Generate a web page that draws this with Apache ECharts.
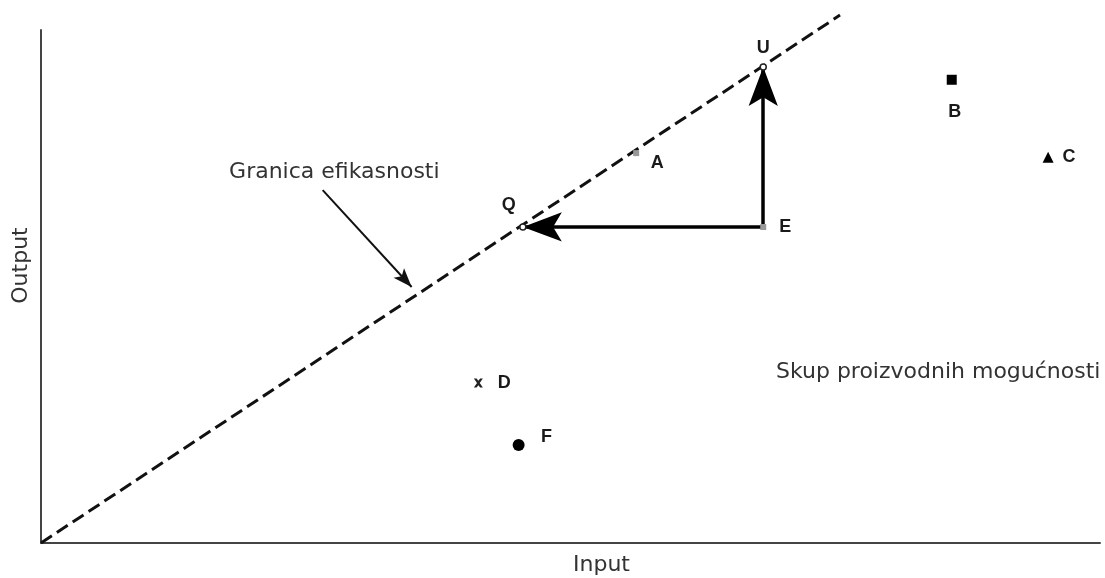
<!DOCTYPE html>
<html>
<head>
<meta charset="utf-8">
<script src="https://cdn.jsdelivr.net/npm/echarts@6/dist/echarts.min.js"></script>
<style>
  html, body { margin: 0; padding: 0; background: #fff; }
  #myChart { width: 1105px; height: 578px; }
</style>
</head>
<body>
<div id="myChart"></div>
<script>
// granica efikasnosti (od ishodišta)
var frontier = [[0, 0], [75.45, 102.9]]
// točke
var pointU = [68.2, 92.8]
var pointQ = [45.5, 61.6]
var pointE = [68.2, 61.6]
var pointA = [56.2, 76.0]
var pointB = [86.0, 90.3]
var pointC = [95.1, 75.2]
var pointD = [41.3, 31.2]
var pointF = [45.1, 19.1]
// strelica s oznakom granice
var noteArrow = [[26.6, 68.8], [35.0, 49.9]]
var noteText = 'Granica efikasnosti'
var notePos = [27.7, 72.3]
var setText = 'Skup proizvodnih mogućnosti'
var setPos = [69.4, 33.3]
var xName = 'Input'
var yName = 'Output'

var labelFont = { fontFamily: 'Liberation Sans', fontWeight: 'bold', fontSize: 18, color: '#1a1a1a' }
var textFont = { fontFamily: 'DejaVu Sans', fontSize: 22, color: '#333' }
// vrh strelice je u sredini okvira 80x80 pa pada točno na krajnju točku linije
var arrowHead = 'path://M-20,-20L-20,-20M60,60L60,60M20,20L35,60L20,51L5,60Z'

function pt(value, name, symbol, size, color, offset) {
  var hollow = color === '#fff'
  return {
    value: value,
    symbol: symbol,
    symbolSize: size,
    itemStyle: { color: color, opacity: 1, borderColor: hollow ? '#222' : color, borderWidth: hollow ? 1.5 : 0 },
    label: Object.assign({ show: true, formatter: name, position: 'inside', offset: offset }, labelFont)
  }
}

var chartDom = document.getElementById('myChart')
var myChart = echarts.init(chartDom)
var option = {
  animation: false,
  grid: { left: 41, top: 30, width: 1059, height: 513, outerBoundsMode: 'none', containLabel: false },
  xAxis: {
    type: 'value', min: 0, max: 100,
    name: xName, nameLocation: 'middle', nameGap: 11,
    nameTextStyle: Object.assign({ padding: [0, 0, 0, 62] }, textFont),
    axisLine: { lineStyle: { color: '#444', width: 2 } },
    axisTick: { show: false }, axisLabel: { show: false }, splitLine: { show: false }
  },
  yAxis: {
    type: 'value', min: 0, max: 100,
    name: yName, nameLocation: 'middle', nameGap: 9,
    nameTextStyle: Object.assign({ padding: [0, 0, 0, 42] }, textFont),
    axisLine: { show: true, lineStyle: { color: '#444', width: 2 } },
    axisTick: { show: false }, axisLabel: { show: false }, splitLine: { show: false }
  },
  series: [
    {
      type: 'line',
      data: frontier,
      clip: false,
      symbol: 'none',
      lineStyle: { color: '#111', width: 3, type: [13, 6] }
    },
    {
      type: 'lines',
      coordinateSystem: 'cartesian2d',
      symbol: ['none', arrowHead],
      symbolSize: 78,
      lineStyle: { color: '#000', width: 3.5, opacity: 1 },
      data: [
        { coords: [pointE, pointQ] },
        { coords: [pointE, pointU] }
      ]
    },
    {
      type: 'lines',
      coordinateSystem: 'cartesian2d',
      symbol: ['none', arrowHead],
      symbolSize: 38,
      lineStyle: { color: '#111', width: 2, opacity: 1 },
      data: [{ coords: noteArrow }]
    },
    {
      type: 'scatter',
      z: 5,
      data: [
        pt(pointU, 'U', 'circle', 6, '#fff', [0, -19]),
        pt(pointQ, 'Q', 'circle', 6, '#fff', [-14, -22]),
        pt(pointE, 'E', 'rect', 6, '#999', [22, 0]),
        pt(pointA, 'A', 'rect', 6, '#999', [21, 10]),
        pt(pointB, 'B', 'rect', 10, '#000', [3, 32]),
        pt(pointC, 'C', 'triangle', 11, '#000', [21, 0]),
        pt(pointD, 'D', 'path://M0,0L3,0L5,2.5L7,0L10,0L6.5,5L10,10L7,10L5,7.5L3,10L0,10L3.5,5Z', 9, '#222', [26, 0]),
        pt(pointF, 'F', 'circle', 12, '#000', [28, -8])
      ]
    },
    {
      type: 'scatter',
      symbolSize: 0,
      silent: true,
      itemStyle: { opacity: 1 },
      data: [
        { value: notePos, label: Object.assign({ show: true, formatter: noteText, position: 'inside' }, textFont) },
        { value: setPos, label: Object.assign({ show: true, formatter: setText, position: 'right', distance: 0 }, textFont) }
      ]
    }
  ]
}
myChart.setOption(option)
</script>
</body>
</html>
